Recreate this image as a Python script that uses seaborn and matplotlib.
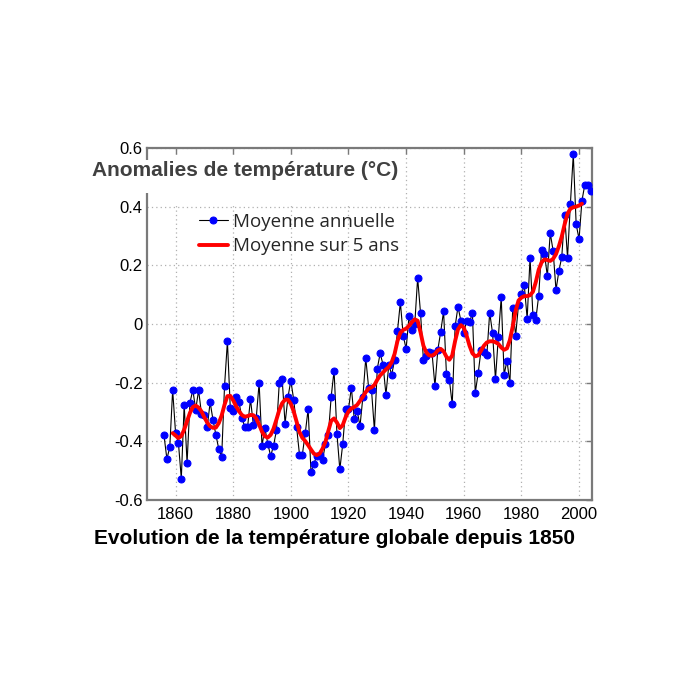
import seaborn as sns
import matplotlib.pyplot as plt
from matplotlib.patches import Rectangle
import numpy as np
import pandas as pd

# annual global temperature anomalies, 1856 -> 2004
years = np.arange(1856, 2005)
annual = [-0.38, -0.46, -0.42, -0.225, -0.37, -0.405, -0.527, -0.275, -0.474, -0.268,
          -0.225, -0.292, -0.226, -0.306, -0.31, -0.352, -0.267, -0.327, -0.378, -0.426,
          -0.453, -0.212, -0.059, -0.288, -0.298, -0.248, -0.265, -0.319, -0.35, -0.351,
          -0.256, -0.344, -0.32, -0.201, -0.415, -0.355, -0.408, -0.45, -0.415, -0.363,
          -0.20, -0.188, -0.34, -0.25, -0.193, -0.258, -0.35, -0.445, -0.445, -0.373,
          -0.29, -0.505, -0.477, -0.449, -0.447, -0.465, -0.408, -0.38, -0.248, -0.159,
          -0.374, -0.496, -0.41, -0.291, -0.291, -0.217, -0.324, -0.295, -0.348, -0.249,
          -0.116, -0.218, -0.226, -0.362, -0.152, -0.10, -0.139, -0.241, -0.139, -0.173,
          -0.123, -0.025, 0.074, -0.04, -0.085, 0.026, -0.02, 0.0, 0.157, 0.0375,
          -0.122, -0.108, -0.095, -0.10, -0.212, -0.088, -0.027, 0.043, -0.172, -0.19,
          -0.274, -0.008, 0.059, 0.011, -0.03, 0.011, 0.007, 0.036, -0.234, -0.168,
          -0.088, -0.095, -0.107, 0.039, -0.032, -0.189, -0.043, 0.091, -0.173, -0.125,
          -0.202, 0.056, -0.04, 0.066, 0.101, 0.132, 0.018, 0.226, 0.030, 0.015,
          0.097, 0.252, 0.24, 0.163, 0.31, 0.25, 0.116, 0.18, 0.228, 0.373,
          0.226, 0.41, 0.578, 0.34, 0.289, 0.42, 0.475, 0.475, 0.452]

# red 5-year curve, 1859 -> 2001
smooth_years = np.arange(1859, 2002)
smooth = [-0.372, -0.38, -0.389, -0.382, -0.36, -0.332, -0.303, -0.283, -0.278, -0.285,
          -0.298, -0.318, -0.336, -0.349, -0.354, -0.353, -0.338, -0.312, -0.275, -0.246,
          -0.245, -0.26, -0.28, -0.297, -0.31, -0.316, -0.314, -0.31, -0.311, -0.322,
          -0.343, -0.367, -0.383, -0.387, -0.378, -0.357, -0.326, -0.293, -0.27, -0.258,
          -0.258, -0.272, -0.298, -0.333, -0.368, -0.388, -0.399, -0.413, -0.428, -0.442,
          -0.447, -0.442, -0.425, -0.402, -0.365, -0.33, -0.322, -0.336, -0.355, -0.345,
          -0.318, -0.298, -0.288, -0.283, -0.276, -0.262, -0.248, -0.232, -0.22, -0.216,
          -0.208, -0.19, -0.175, -0.165, -0.155, -0.146, -0.13, -0.102, -0.058, -0.03,
          -0.02, -0.016, -0.006, 0.006, 0.016, 0.011, -0.028, -0.074, -0.097, -0.107,
          -0.108, -0.102, -0.09, -0.085, -0.093, -0.112, -0.122, -0.107, -0.058, -0.018,
          -0.004, -0.012, -0.04, -0.074, -0.1, -0.11, -0.107, -0.091, -0.074, -0.063,
          -0.059, -0.059, -0.062, -0.068, -0.08, -0.088, -0.083, -0.055, -0.008, 0.045,
          0.08, 0.09, 0.095, 0.095, 0.098, 0.11, 0.143, 0.185, 0.21, 0.22,
          0.218, 0.215, 0.222, 0.238, 0.265, 0.298, 0.34, 0.376, 0.393, 0.398,
          0.40, 0.404, 0.41]

x_ticks = [1860, 1880, 1900, 1920, 1940, 1960, 1980, 2000]
y_ticks = [-0.6, -0.4, -0.2, 0, 0.2, 0.4, 0.6]
y_labels = ["-0.6", "-0.4", "-0.2", "0", "0.2", "0.4", "0.6"]

sns.set_theme(style="white")
plt.rcParams['font.family'] = ['Liberation Sans', 'DejaVu Sans']

df_a = pd.DataFrame({"annee": years, "anomalie": annual})
df_s = pd.DataFrame({"annee": smooth_years, "anomalie": smooth})

fig = plt.figure(figsize=(6.96, 6.96), dpi=100)
fig.patch.set_facecolor('white')
ax = fig.add_axes([0.2108, 0.2816, 0.6398, 0.5058])

sns.lineplot(data=df_a, x="annee", y="anomalie", ax=ax,
             color='black', lw=0.8, marker='o', markersize=5,
             markerfacecolor='blue', markeredgecolor='blue',
             label='Moyenne annuelle', zorder=3)
sns.lineplot(data=df_s, x="annee", y="anomalie", ax=ax,
             color='red', lw=2.8, label='Moyenne sur 5 ans', zorder=4)

ax.set_xlim(1850, 2004.5)
ax.set_ylim(-0.6, 0.6)
ax.set_xticks(x_ticks)
ax.set_yticks(y_ticks)
ax.set_yticklabels(y_labels)
ax.set_xlabel('')
ax.set_ylabel('')

ax.grid(True, color='#b0b0b0', linestyle=(0, (1, 2.5)), linewidth=0.9)
ax.set_axisbelow(True)
for s in ax.spines.values():
    s.set_visible(True)
    s.set_color('#7a7a7a')
    s.set_linewidth(1.6)
ax.tick_params(axis='both', direction='in', length=4, width=1, color='#7a7a7a',
               labelsize=12, labelcolor='black', top=True, right=True)
ax.tick_params(axis='x', pad=5)
ax.tick_params(axis='y', pad=3)

# white patch behind the y title, hides grid tops
ax.add_patch(Rectangle((148 / 696, 1 - 204 / 696), (402 - 148) / 696, (204 - 156) / 696,
                       transform=fig.transFigure, facecolor='white', edgecolor='none',
                       zorder=1))
fig.add_artist(Rectangle((140 / 696, 1 - 193 / 696), 12 / 696, 33 / 696,
                         transform=fig.transFigure, facecolor='white', edgecolor='none',
                         zorder=1))

fig.text(91.7 / 696, 1 - 170 / 696, 'Anomalies de température (°C)',
         fontsize=15, fontweight='bold', color='#404040', va='center', ha='left', zorder=5)

ax.legend(loc='upper left', bbox_to_anchor=(199 / 696, 1 - 213 / 696),
          bbox_transform=fig.transFigure, frameon=False,
          prop={'family': 'Open Sans', 'size': 13.5},
          handlelength=1.53, handletextpad=0.27, labelspacing=0.33,
          borderpad=0, borderaxespad=0)

fig.text(334 / 696, 1 - 539 / 696, 'Evolution de la température globale depuis 1850',
         fontsize=15, fontweight='bold', color='black', ha='center', va='center')

fig.savefig('out.png', dpi=100, facecolor='white')
